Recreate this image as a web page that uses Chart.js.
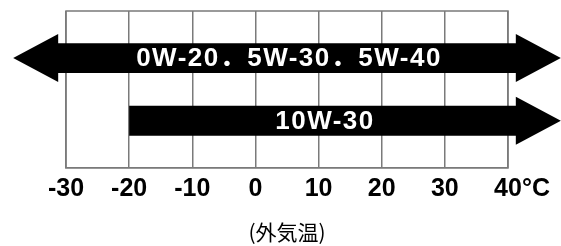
<!DOCTYPE html>
<html lang="ja">
<head>
    <meta charset="UTF-8">
    <title>Oil viscosity vs temperature</title>
    <script src="https://cdn.jsdelivr.net/npm/chart.js"></script>
    <style>
        body {
            margin: 0;
            background: white;
        }
        #chart {
            display: block;
        }
    </style>
</head>
<body>
    <canvas id="chart" width="561" height="246"></canvas>
    <script>
        // rows of the band chart (empty rows are the white gaps)
        const rows = ['', 'a', '', 'b', ''];
        const bandNames = ['0W-20．5W-30．5W-40', '10W-30'];
        const bandRows = [1, 3];
        const bandStart = [-31.4, -20];   // °C
        const bandEnd = [41.4, 41.4];     // °C
        const arrowLeft = [true, false];
        const arrowRight = [true, true];
        const tempTicks = [-30, -20, -10, 0, 10, 20, 30, 40];

        const barData = rows.map(() => null);
        bandRows.forEach((r, i) => { barData[r] = [bandStart[i], bandEnd[i]]; });

        const arrowPlugin = {
            id: 'arrows',
            beforeDraw(chart) {
                const a = chart.chartArea;
                const ctx = chart.ctx;
                ctx.save();
                ctx.strokeStyle = '#7a7a7a';
                ctx.lineWidth = 1.5;
                ctx.strokeRect(a.left, a.top, a.right - a.left, a.bottom - a.top);
                ctx.restore();
            },
            afterDatasetsDraw(chart) {
                const ctx = chart.ctx;
                const bars = chart.getDatasetMeta(0).data;
                ctx.save();
                bandRows.forEach((r, i) => {
                    const bar = bars[r];
                    const headH = 24, headL = 44;
                    const left = Math.min(bar.x, bar.base);
                    const right = Math.max(bar.x, bar.base);
                    ctx.fillStyle = '#000';
                    if (arrowRight[i]) {
                        ctx.beginPath();
                        ctx.moveTo(right - 1, bar.y - headH);
                        ctx.lineTo(right + headL, bar.y);
                        ctx.lineTo(right - 1, bar.y + headH);
                        ctx.closePath();
                        ctx.fill();
                    }
                    if (arrowLeft[i]) {
                        ctx.beginPath();
                        ctx.moveTo(left + 1, bar.y - headH);
                        ctx.lineTo(left - headL, bar.y);
                        ctx.lineTo(left + 1, bar.y + headH);
                        ctx.closePath();
                        ctx.fill();
                    }
                    ctx.fillStyle = '#fff';
                    ctx.font = 'bold 26px "Liberation Sans", "Noto Sans CJK JP", sans-serif';
                    ctx.letterSpacing = '1.5px';
                    ctx.textAlign = 'center';
                    ctx.textBaseline = 'middle';
                    ctx.fillText(bandNames[i], (left + right) / 2 + 2, bar.y + 1);
                });
                ctx.restore();
            },
            afterDraw(chart) {
                // degree unit after the last tick label
                const ctx = chart.ctx;
                const xs = chart.scales.x;
                const last = tempTicks[tempTicks.length - 1];
                ctx.save();
                ctx.font = 'bold 25px "Liberation Sans", sans-serif';
                const w = ctx.measureText(String(last)).width;
                const items = xs.getLabelItems();
                const item = items[items.length - 1];
                ctx.fillStyle = '#000';
                ctx.textAlign = 'left';
                ctx.textBaseline = 'middle';
                ctx.fillText('°C', xs.getPixelForValue(last) + w / 2, item.options.translation[1] + 15);
                ctx.restore();
            }
        };

        new Chart(document.getElementById('chart'), {
            type: 'bar',
            data: {
                labels: rows,
                datasets: [{
                    data: barData,
                    backgroundColor: '#000',
                    borderWidth: 0,
                    barPercentage: 1,
                    categoryPercentage: 0.95,
                    clip: false
                }]
            },
            options: {
                indexAxis: 'y',
                responsive: false,
                animation: false,
                layout: {
                    padding: { left: 66, right: 53, top: 11, bottom: 1 }
                },
                plugins: {
                    legend: { display: false },
                    tooltip: { enabled: false }
                },
                scales: {
                    y: { display: false },
                    x: {
                        type: 'linear',
                        min: -30,
                        max: 40,
                        afterBuildTicks(scale) {
                            scale.ticks = tempTicks.map(v => ({ value: v }));
                        },
                        grid: { color: '#7a7a7a', lineWidth: 1.5, drawTicks: false },
                        border: { color: '#7a7a7a', width: 1.5 },
                        ticks: {
                            color: '#000',
                            padding: 6,
                            maxRotation: 0,
                            font: { family: '"Liberation Sans", sans-serif', size: 25, weight: 'bold' }
                        },
                        title: {
                            display: true,
                            text: '(外気温)',
                            color: '#000',
                            padding: { top: 10, bottom: 0 },
                            font: { family: '"Noto Sans CJK JP", sans-serif', size: 21 }
                        }
                    }
                }
            },
            plugins: [arrowPlugin]
        });
    </script>
</body>
</html>
